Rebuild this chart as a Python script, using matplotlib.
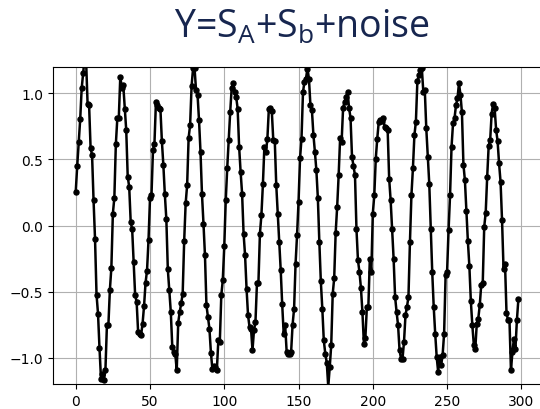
import numpy as np
import matplotlib
matplotlib.use("Agg")
import matplotlib.pyplot as plt

# samples (index 0..298)
signal = [
    0.255, 0.452, 0.634, 0.803, 1.038, 1.157, 1.27, 1.24, 0.917, 0.912,
    0.588, 0.533, 0.192, -0.104, -0.523, -0.667, -0.927, -1.159, -1.121, -1.172,
    -1.091, -0.755, -0.75, -0.485, -0.318, 0.091, 0.21, 0.614, 0.811, 0.816,
    1.126, 1.045, 1.063, 0.886, 0.722, 0.369, 0.293, 0.028, -0.03, -0.275,
    -0.528, -0.578, -0.806,
    -0.82, -0.83, -0.742, -0.609, -0.434, -0.341, -0.111, 0.205, 0.23, 0.571,
    0.621, 0.937, 0.912, 0.891, 0.886, 0.639, 0.457, 0.235, 0.048, -0.331,
    -0.49, -0.654, -0.919, -0.957, -0.97, -1.096, -0.735, -0.654, -0.59, -0.515,
    -0.119, 0.167, 0.306, 0.664, 0.76, 1.058, 1.19, 1.19, 1.025, 0.992,
    0.798, 0.558, 0.235, 0.015, -0.225, -0.604, -0.69, -0.78, -0.962, -1.088,
    -1.063, -1.07, -1.096, -0.869,
    -0.88, -0.528, -0.414, -0.157, 0.192, 0.437, 0.646, 0.861, 1.043, 1.081,
    1.013, 0.975, 0.886, 0.596, 0.407, 0.242, -0.061, -0.225, -0.477, -0.679,
    -0.768, -0.78, -0.944, -0.793, -0.73, -0.439, -0.432, -0.061, 0.078, 0.311,
    0.596, 0.553, 0.652, 0.881, 0.891, 0.866, 0.646, 0.64, 0.306, 0.091,
    -0.124, -0.338, -0.598, -0.818, -0.755, -0.957, -0.97, -0.97, -0.957, -0.75,
    -0.63, -0.288, -0.073, 0.18,
    0.508, 0.659, 1.012, 1.088, 1.113, 1.189, 1.113, 0.912, 0.874, 0.689,
    0.56, 0.419, 0.209, -0.124, -0.422, -0.629, -0.869, -0.97, -1.038, -1.22,
    -1.073, -0.907, -0.518, -0.399, -0.053, 0.141, 0.381, 0.664, 0.634, 0.891,
    0.937, 0.975, 1.013, 0.891, 0.816, 0.52, 0.45, 0.381, -0.028, -0.263,
    -0.351, -0.472, -0.654, -0.894, -0.851, -0.616, -0.616, -0.25, -0.351, 0.091,
    0.23, 0.507, 0.659, 0.785,
    0.798, 0.79, 0.811, 0.747, 0.735, 0.722, 0.356, 0.192, -0.023, -0.25,
    -0.54, -0.654, -0.755, -0.944, -1.008, -1.008, -0.881, -0.679, -0.616, -0.54,
    -0.124, 0.23, 0.432, 0.684, 0.785, 1.093, 1.139, 1.177, 1.19, 1.013,
    1.025, 0.735, 0.52, 0.318, -0.023, -0.351, -0.616, -0.818, -0.995, -1.109,
    -0.995, -1.058, -0.98, -0.818, -0.376, -0.351, -0.035, 0.23, 0.596, 0.773,
    0.811, 0.912, 0.962, 1.076,
    0.992, 0.856, 0.462, 0.343, 0.109, -0.119, -0.306, -0.573, -0.755, -0.902,
    -0.932, -0.742, -0.705, -0.604, -0.447, -0.439, -0.01, 0.098, 0.369, 0.604,
    0.646, 0.848, 0.924, 0.891, 0.727, 0.639, 0.47, 0.331, 0.04, -0.326,
    -0.288, -0.659, -0.717, -0.717, -1.096, -0.957, -0.856, -0.937, -0.717, -0.558,
]
x_ticks = [0, 50, 100, 150, 200, 250, 300]
y_ticks = [-1.0, -0.5, 0.0, 0.5, 1.0]
title = r"Y=S$_\mathregular{A}$+S$_\mathregular{b}$+noise"

plt.rcParams["mathtext.fontset"] = "custom"
plt.rcParams["mathtext.rm"] = "Open Sans"

fig = plt.figure(figsize=(5.4, 4.1), dpi=100)
ax = fig.add_axes([0.0976, 0.061, 0.905, 0.773])

t = np.arange(len(signal))
ax.plot(t, signal, color="black", lw=1.8, marker="o", ms=3.6)

ax.set_xlim(-15.5, 313.5)
ax.set_ylim(-1.2, 1.2)
ax.set_xticks(x_ticks)
ax.set_yticks(y_ticks)
ax.grid(True)
ax.set_axisbelow(True)

# title sits above the axes, slightly right of the figure centre
fig.text(0.559, 0.908, title, ha="center", va="baseline",
         fontsize=27, family="Open Sans", color="#17264f")

fig.savefig("out.png", dpi=100)
